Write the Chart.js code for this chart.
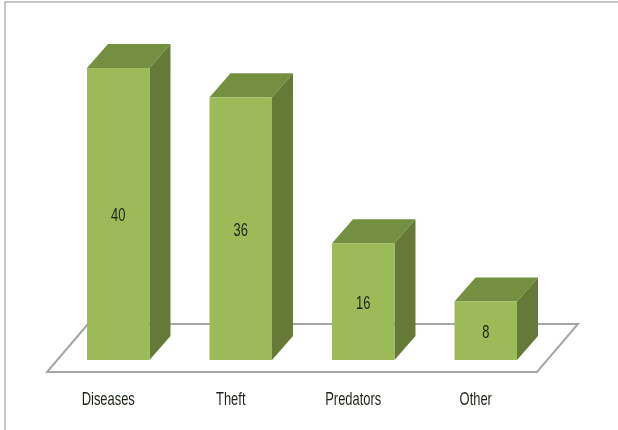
<!DOCTYPE html>
<html>
<head>
<meta charset="utf-8">
<style>
  html, body { margin: 0; padding: 0; background: #fff; }
  /* the reference is a soft, resampled picture */
  canvas { display: block; filter: blur(0.5px); }
</style>
<script src="https://cdn.jsdelivr.net/npm/chart.js@4"></script>
</head>
<body>
<canvas id="chart" width="618" height="430"></canvas>
<script>
const categories = ['Diseases', 'Theft', 'Predators', 'Other'];
const values = [40, 36, 16, 8];

const frontColor = '#9BBB59';
const topColor = '#748F40';
const sideColor = '#647A36';
const floorColor = '#A6A6A6';
const textColor = '#1c2419';
const fontName = '"Liberation Sans", sans-serif';

// how far the fake 3d goes back
const depthX = 21;
const depthY = 24;
// no narrow font here, so the text gets squeezed sideways
const squeeze = 0.68;

function narrowText(ctx, text, x, y) {
    ctx.fillText(text, x, y, ctx.measureText(text).width * squeeze);
}

const pagePlugin = {
    id: 'page',
    beforeDraw(chart) {
        const ctx = chart.ctx;
        ctx.save();
        ctx.fillStyle = '#fff';
        ctx.fillRect(0, 0, chart.width, chart.height);
        ctx.strokeStyle = '#b4b4b4';
        ctx.lineWidth = 1.5;
        ctx.beginPath();
        ctx.moveTo(5, chart.height);
        ctx.lineTo(5, 2);
        ctx.lineTo(chart.width, 2);
        ctx.stroke();
        ctx.restore();
    }
};

const floorPlugin = {
    id: 'floor',
    beforeDatasetsDraw(chart) {
        const ctx = chart.ctx;
        const a = chart.chartArea;
        ctx.save();
        ctx.strokeStyle = floorColor;
        ctx.lineWidth = 2;
        ctx.beginPath();
        ctx.moveTo(a.left + 31, a.bottom - 36);
        ctx.lineTo(a.left - 10, a.bottom + 12);
        ctx.lineTo(a.right - 10, a.bottom + 12);
        ctx.lineTo(a.right + 31, a.bottom - 36);
        ctx.closePath();
        ctx.stroke();
        ctx.restore();
    }
};

const boxPlugin = {
    id: 'box',
    beforeDatasetsDraw(chart) {
        const ctx = chart.ctx;
        chart.getDatasetMeta(0).data.forEach(function(bar) {
            const l = bar.x - bar.width / 2;
            const r = bar.x + bar.width / 2;
            ctx.save();
            // top face
            ctx.fillStyle = topColor;
            ctx.beginPath();
            ctx.moveTo(l, bar.y);
            ctx.lineTo(l + depthX, bar.y - depthY);
            ctx.lineTo(r + depthX, bar.y - depthY);
            ctx.lineTo(r, bar.y);
            ctx.closePath();
            ctx.fill();
            // side face
            ctx.fillStyle = sideColor;
            ctx.beginPath();
            ctx.moveTo(r, bar.y);
            ctx.lineTo(r + depthX, bar.y - depthY);
            ctx.lineTo(r + depthX, bar.base - depthY);
            ctx.lineTo(r, bar.base);
            ctx.closePath();
            ctx.fill();
            ctx.restore();
        });
    },
    afterDatasetsDraw(chart) {
        const ctx = chart.ctx;
        const xScale = chart.scales.x;
        ctx.save();
        ctx.fillStyle = textColor;
        ctx.font = '19px ' + fontName;
        ctx.textAlign = 'center';
        ctx.textBaseline = 'middle';
        chart.getDatasetMeta(0).data.forEach(function(bar, i) {
            narrowText(ctx, String(values[i]), bar.x, (bar.y + bar.base) / 2 + 2);
        });
        // category labels sit a bit left of their bars
        categories.forEach(function(name, i) {
            narrowText(ctx, name, xScale.getPixelForValue(i) - 10, chart.chartArea.bottom + 40);
        });
        ctx.restore();
    }
};

new Chart(document.getElementById('chart').getContext('2d'), {
    type: 'bar',
    data: {
        labels: categories,
        datasets: [{
            data: values,
            backgroundColor: frontColor,
            borderWidth: 0,
            barPercentage: 0.51,
            categoryPercentage: 1
        }]
    },
    options: {
        responsive: false,
        animation: false,
        layout: { padding: { left: 57, right: 71, top: 68, bottom: 0 } },
        plugins: {
            legend: { display: false },
            title: { display: false },
            tooltip: { enabled: false }
        },
        scales: {
            x: {
                grid: { display: false },
                border: { display: false },
                afterFit(scale) { scale.height = 70; },
                ticks: { display: false }
            },
            y: {
                display: false,
                min: 0,
                max: 40
            }
        }
    },
    plugins: [pagePlugin, floorPlugin, boxPlugin]
});
</script>
</body>
</html>
